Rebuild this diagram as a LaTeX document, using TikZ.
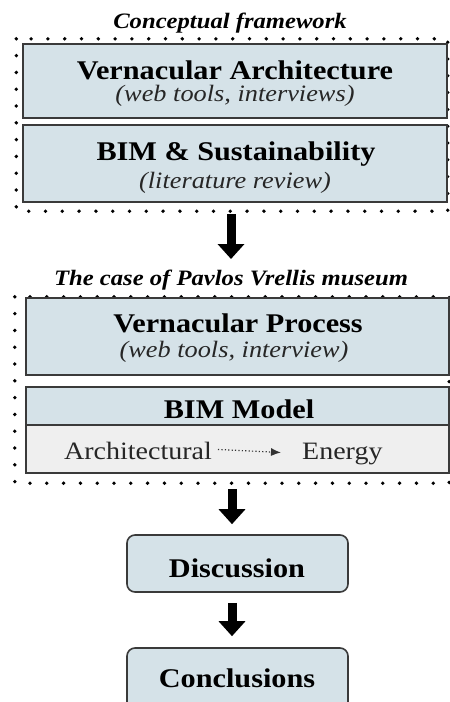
\documentclass[tikz,border=0pt]{standalone}
\usepackage{fontspec}
\setmainfont{Liberation Serif}[FakeStretch=1.12]
\usetikzlibrary{arrows.meta,decorations.markings}
\definecolor{boxblue}{HTML}{D5E2E8}
\definecolor{boxgrey}{HTML}{EFEFEF}
\definecolor{edgec}{HTML}{3A3A3A}
\tikzset{
  dotframe/.style={inner sep=0pt},
  dotline/.style={decorate, decoration={markings, mark=between positions 0 and 1 step 16.8pt with {\fill[black] (0,0) circle (1.9pt);}}},
  panel/.style={draw=edgec, line width=1.6pt, fill=boxblue, inner sep=0pt},
  greypanel/.style={draw=edgec, line width=1.6pt, fill=boxgrey, inner sep=0pt},
  roundpanel/.style={panel, rounded corners=8pt},
  headtxt/.style={font=\fontsize{27}{30}\selectfont\bfseries, inner sep=0pt, anchor=base, text=black},
  subtxt/.style={font=\fontsize{23.5}{26}\selectfont\itshape, inner sep=0pt, anchor=base, text=black!85},
  titletxt/.style={font=\fontsize{22}{25}\selectfont\bfseries\itshape, inner sep=0pt, anchor=base, text=black},
  plaintxt/.style={font=\fontsize{25}{28}\selectfont, inner sep=0pt, anchor=base, text=black!85},
  bigarrow/.style={draw=black, line width=9pt, -{Triangle[width=26pt,length=15pt]}},
  smallarrow/.style={draw=black!80, line width=1.2pt, dash pattern=on 1.2pt off 2.2pt, -{Latex[length=10pt,width=8pt]}},
}
\begin{document}
\begin{tikzpicture}[x=1pt,y=-1pt]
\useasboundingbox (0,0) rectangle (450,702);
% top section
\node[titletxt] (t1) at (230,28) {Conceptual framework};
\node[dotframe, minimum width=431pt, minimum height=172pt] (f1) at (232,125) {};
\path[dotline] (f1.north west) rectangle (f1.south east);
\node[panel, minimum width=424pt, minimum height=74pt] (b1) at (235,81) {};
\node[panel, minimum width=424pt, minimum height=77pt] (b2) at (235,163.5) {};
\node[headtxt] (b1h) at (235,79) {Vernacular Architecture};
\node[subtxt] (b1s) at (235,101) {(web tools, interviews)};
\node[headtxt] (b2h) at (236,160) {BIM \& Sustainability};
\node[subtxt] (b2s) at (235,188) {(literature review)};
% second section
\coordinate (a1s) at (231,214);
\node[titletxt] (t2) at (231,285) {The case of Pavlos Vrellis museum};
\coordinate (a1e) at (231,259);
\draw[bigarrow] (a1s) -- (a1e);
\node[dotframe, minimum width=434pt, minimum height=186pt] (f2) at (232,390) {};
\path[dotline] (f2.north west) rectangle (f2.south east);
\node[panel, minimum width=423pt, minimum height=77pt] (b3) at (237.5,336.5) {};
\node[headtxt] (b3h) at (238,332) {Vernacular Process};
\node[subtxt] (b3s) at (234,357) {(web tools, interview)};
\node[panel, minimum width=423pt, minimum height=38pt] (bm) at (237.5,406) {};
\node[greypanel, minimum width=423pt, minimum height=48pt] (bb) at (237.5,449) {};
\node[headtxt] (bmh) at (239,418) {BIM Model};
\node[plaintxt, anchor=base east] (arch) at (212,459) {Architectural};
\node[plaintxt, anchor=base west] (en) at (302,459) {Energy};
\draw[smallarrow] ([xshift=6pt,yshift=1pt]arch.east) -- ([xshift=-21pt,yshift=1pt]en.west);
% lower section
\coordinate (a2s) at (232,489);
\node[roundpanel, minimum width=221pt, minimum height=57pt] (disc) at (237.5,563.5) {};
\node[headtxt] (disch) at (237,577) {Discussion};
\draw[bigarrow] (a2s) -- ([yshift=10pt]disc.north -| a2s);
\node[roundpanel, minimum width=221pt, minimum height=66pt] (conc) at (237.5,681) {};
\node[headtxt] (conch) at (237,687) {Conclusions};
\draw[bigarrow] ([yshift=-10pt]disc.south -| a2s) -- ([yshift=11pt]conc.north -| a2s);
\end{tikzpicture}
\end{document}
